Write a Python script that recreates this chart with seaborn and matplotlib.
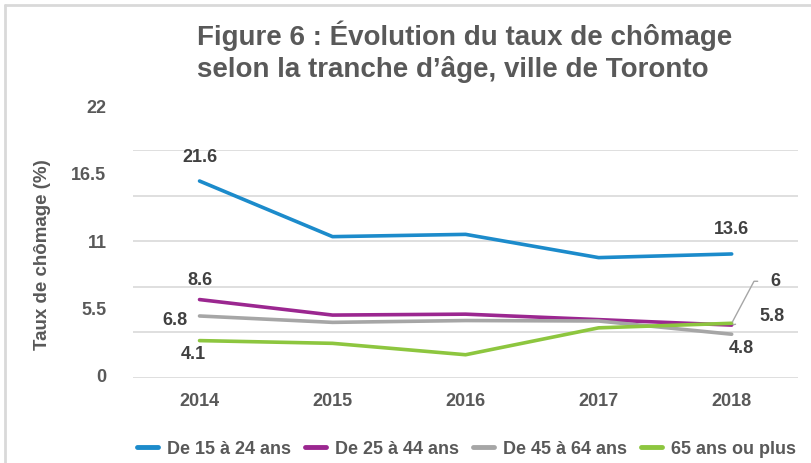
import numpy as np
import pandas as pd
import matplotlib.pyplot as plt
import seaborn as sns
from matplotlib.lines import Line2D

### Data
years = ["2014", "2015", "2016", "2017", "2018"]
age_groups = ["De 15 à 24 ans", "De 25 à 44 ans", "De 45 à 64 ans", "65 ans ou plus"]
rate_15_24 = [21.6, 15.5, 15.75, 13.2, 13.6]
rate_25_44 = [8.6, 6.9, 7.0, 6.4, 5.8]
rate_45_64 = [6.8, 6.1, 6.3, 6.25, 4.8]
rate_65_plus = [4.1, 3.8, 2.55, 5.5, 6.0]
ytick_labels = ["0", "5.5", "11", "16.5", "22"]

colors = ["#1C8BCB", "#9B2790", "#A6A6A6", "#8DC63F"]
grey_text = "#595959"
dark_text = "#404040"

df = pd.DataFrame({
    "pos": list(range(len(years))) * 4,
    "taux": rate_15_24 + rate_25_44 + rate_45_64 + rate_65_plus,
    "groupe": sum([[g] * len(years) for g in age_groups], []),
})

sns.set_style("white")
plt.rcParams["font.family"] = ["Liberation Sans", "DejaVu Sans"]

fig = plt.figure(figsize=(8.12, 4.63), dpi=100)
ax = fig.add_axes([0.1638, 0.1836, 0.8192, 0.4924])

sns.lineplot(data=df, x="pos", y="taux", hue="groupe", hue_order=age_groups,
             palette=colors, linewidth=2.6, ax=ax, legend=False)

ax.set_xlim(-0.5, 4.5)
ax.set_ylim(0, 25)
ax.set_yticks(np.arange(0, 26, 5))
ax.yaxis.grid(True, color="#D9D9D9", linewidth=1.2)
ax.set_yticklabels([])
ax.tick_params(axis="y", length=0)
ax.set_xticks(range(len(years)))
ax.set_xticklabels(years, fontsize=13, fontweight="bold", color=grey_text)
ax.tick_params(axis="x", length=0, pad=11)
ax.set_xlabel("")
ax.set_ylabel("")
for s in ax.spines.values():
    s.set_visible(False)

# y tick labels (drawn out of step with the grid, as in the original)
for i, lab in enumerate(ytick_labels):
    ax.text(-0.04, i * 7.4, lab, transform=ax.get_yaxis_transform(), ha="right",
            va="center", fontsize=13, fontweight="bold", color=grey_text, clip_on=False)

fig.text(0.052, 0.449, "Taux de chômage (%)", rotation=90, ha="center", va="center",
         fontsize=13.5, fontweight="bold", color=grey_text)

fig.text(0.243, 0.889, "Figure 6 : Évolution du taux de chômage\nselon la tranche d\u2019âge, ville de Toronto",
         ha="left", va="center", fontsize=20, fontweight="bold", color=grey_text,
         linespacing=1.25)

### Data labels
lab_kw = dict(fontsize=13, fontweight="bold", color=dark_text, ha="center", va="center",
              textcoords="offset pixels")
ax.annotate("21.6", (0, rate_15_24[0]), xytext=(0, 24), **lab_kw)
ax.annotate("13.6", (4, rate_15_24[4]), xytext=(0, 24), **lab_kw)
ax.annotate("8.6", (0, rate_25_44[0]), xytext=(0, 19), **lab_kw)
ax.annotate("6.8", (0, rate_45_64[0]), xytext=(-25, -5), **lab_kw)
ax.annotate("4.1", (0, rate_65_plus[0]), xytext=(-6, -14), **lab_kw)
ax.annotate("4.8", (4, rate_45_64[4]), xytext=(10, -14), **lab_kw)
ax.annotate("6", (4, rate_65_plus[4]), xytext=(44, 42),
            arrowprops=dict(arrowstyle="-", color="#A6A6A6", lw=1,
                            connectionstyle="angle,angleA=180,angleB=62,rad=0",
                            shrinkA=7, shrinkB=1), **lab_kw)
ax.annotate("5.8", (4, rate_25_44[4]), xytext=(40, 9),
            arrowprops=dict(arrowstyle="-", color="#A6A6A6", lw=1, shrinkA=15, shrinkB=1),
            **lab_kw)

### Legend
handles = [Line2D([], [], color=c, linewidth=3.5) for c in colors]
leg = fig.legend(handles, age_groups, loc="center", bbox_to_anchor=(0.5745, 0.03), ncol=4,
                 frameon=False, handlelength=1.15, handletextpad=0.5, columnspacing=0.8,
                 prop=dict(size=13, weight="bold"))
for t in leg.get_texts():
    t.set_color(grey_text)

### Outer chart border
fig.add_artist(Line2D([0.0065, 0.0065], [0, 0.99], transform=fig.transFigure, color="#D9D9D9", lw=2))
fig.add_artist(Line2D([0.0065, 1], [0.99, 0.99], transform=fig.transFigure, color="#D9D9D9", lw=2))

plt.savefig("out.png", dpi=100)
